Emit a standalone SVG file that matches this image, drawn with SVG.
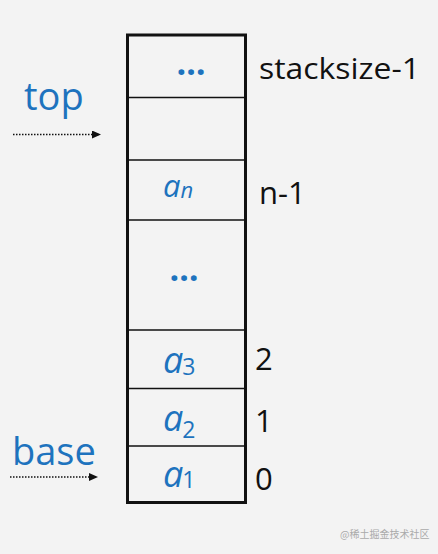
<svg xmlns="http://www.w3.org/2000/svg" width="438" height="554" viewBox="0 0 438 554">
<style>
.blue{fill:#1e73be;font-family:"Open Sans","Noto Sans",sans-serif}
.blk{fill:#111;font-family:"Open Sans","Noto Sans",sans-serif}
.a{font-style:italic}
.ell{font-size:34px;font-weight:bold}
.div{stroke:#111;stroke-width:1.6}
.dot{stroke:#111;stroke-width:1.5;stroke-dasharray:1.5 1.5}
</style>
<defs>
<marker id="ah" markerWidth="9" markerHeight="8" refX="8" refY="4" orient="auto" markerUnits="userSpaceOnUse">
<path d="M0,0 L9,4 L0,8 Z" fill="#111"/>
</marker>
</defs>
<rect width="438" height="554" fill="#f3f3f3"/>
<g id="stack">
<rect x="127.5" y="35" width="118" height="467.5" fill="none" stroke="#111" stroke-width="3"/>
<line class="div" x1="127.5" y1="97.5" x2="245.5" y2="97.5"/>
<line class="div" x1="127.5" y1="160" x2="245.5" y2="160"/>
<line class="div" x1="127.5" y1="220" x2="245.5" y2="220"/>
<line class="div" x1="127.5" y1="330" x2="245.5" y2="330"/>
<line class="div" x1="127.5" y1="388.5" x2="245.5" y2="388.5"/>
<line class="div" x1="127.5" y1="446" x2="245.5" y2="446"/>
</g>
<g id="cells">
<text class="blue ell" x="191" y="75" text-anchor="middle">…</text>
<text class="blue" x="163" y="197"><tspan class="a" font-size="31">a</tspan><tspan class="a" font-size="22" dy="1">n</tspan></text>
<text class="blue ell" x="184" y="281" text-anchor="middle">…</text>
<text class="blue" x="163" y="373"><tspan class="a" font-size="36">a</tspan><tspan font-size="23" dx="-1" dy="2">3</tspan></text>
<text class="blue" x="163" y="431"><tspan class="a" font-size="36">a</tspan><tspan font-size="23" dx="-1" dy="7">2</tspan></text>
<text class="blue" x="163" y="487"><tspan class="a" font-size="36">a</tspan><tspan font-size="23" dx="-1" dy="1">1</tspan></text>
</g>
<g id="indices">
<text class="blk" x="259" y="79" font-size="29" textLength="161" lengthAdjust="spacingAndGlyphs">stacksize-1</text>
<text class="blk" x="259" y="204" font-size="31">n-1</text>
<text class="blk" x="255" y="370" font-size="31">2</text>
<text class="blk" x="255" y="432" font-size="31">1</text>
<text class="blk" x="255" y="490" font-size="31">0</text>
</g>
<g id="top">
<text class="blue" x="24" y="110" font-size="38">top</text>
</g>
<g id="base">
<text class="blue" x="12" y="465" font-size="38">base</text>
</g>
<g id="connectors">
<line class="dot" x1="13" y1="134.5" x2="100" y2="134.5" marker-end="url(#ah)"/>
<line class="dot" x1="10" y1="477" x2="97" y2="477" marker-end="url(#ah)"/>
</g>
<text x="340" y="538" font-family="'Noto Sans CJK SC',sans-serif" font-size="10" fill="#aaa">@稀土掘金技术社区</text>
</svg>
